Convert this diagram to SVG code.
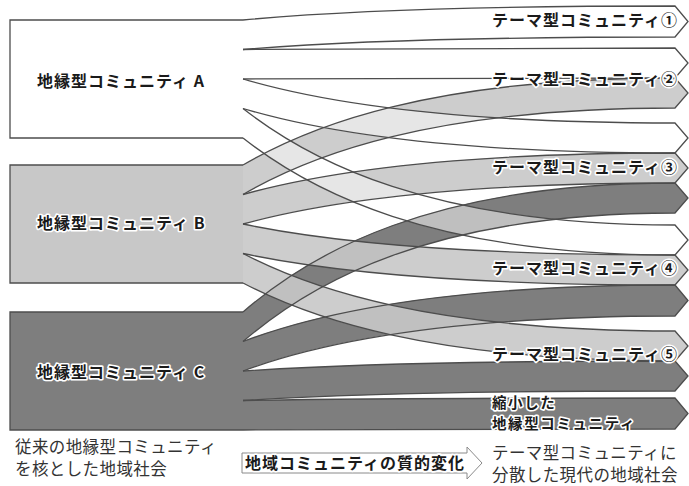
<svg xmlns="http://www.w3.org/2000/svg" xmlns:xlink="http://www.w3.org/1999/xlink" width="689" height="486" viewBox="0 0 689 486">
<style>
.ln{fill:none;stroke:#4d4d4d;stroke-width:1.3;stroke-linejoin:miter}
.fa{fill:#ffffff;fill-opacity:0.5}
.fb{fill:#c8c8c8;fill-opacity:0.9}
.fc{fill:#7e7e7e}
.lbl{font-family:"Noto Sans CJK JP","Noto Sans",sans-serif;font-weight:bold;font-size:16px;letter-spacing:1px;fill:#1a1a1a}
.halo{paint-order:stroke;stroke:#ffffff;stroke-width:3.2px;stroke-linejoin:round}
.cap{font-family:"Noto Sans CJK JP","Noto Sans",sans-serif;font-size:16.5px;letter-spacing:0.4px;fill:#333333}
</style>
<defs>
<path id="bA1" d="M243,20 C310,13.7 430,6 675,6 L688,21.5 L675,37 C430,37 310,43.9 243,49.5"/>
<path id="bA2" d="M243,49.5 C310,48.8 430,48 675,48 L688,63 L675,78 C430,78 310,78.6 243,79"/>
<path id="bA3" d="M243,79 C310,98.8 430,123 675,123 L688,138 L675,153 C430,153 310,128.5 243,108.5"/>
<path id="bA4" d="M243,108.5 C310,160.9 430,225 675,225 L688,240 L675,255 C430,255 310,190.7 243,138"/>
<path id="bB1" d="M243,165 C310,125.9 430,78 675,78 L688,93 L675,108 C430,108 310,155.6 243,194.5"/>
<path id="bB2" d="M243,194.5 C310,175.8 430,153 675,153 L688,168 L675,183 C430,183 310,205.6 243,224"/>
<path id="bB3" d="M243,224 C310,238 430,255 675,255 L688,270 L675,285 C430,285 310,267.7 243,253.5"/>
<path id="bB4" d="M243,253.5 C310,288.4 430,331 675,331 L688,346 L675,361 C430,361 310,318.1 243,283"/>
<path id="bC1" d="M243,312 C310,254 430,183 675,183 L688,198 L675,213 C430,213 310,283.7 243,341.5"/>
<path id="bC2" d="M243,341.5 C310,316.1 430,285 675,285 L688,300.5 L675,316 C430,316 310,346.3 243,371"/>
<path id="bC3" d="M243,371 C310,366.5 430,361 675,361 L688,376 L675,391 C430,391 310,396.2 243,400.5"/>
<path id="bC4" d="M243,400.5 C310,399.4 430,398 675,398 L688,413.5 L675,429 C430,429 310,429.6 243,430"/>
</defs>

<g id="community-a">
<rect x="10" y="20" width="233" height="118" fill="#ffffff"/>
<path class="ln" d="M243,20 H10 V138 H243"/>
<text class="lbl halo" x="37" y="87">地縁型コミュニティ A</text>
</g>
<g id="community-b">
<rect x="10" y="165" width="233" height="118" fill="#c8c8c8"/>
<path class="ln" d="M243,165 H10 V283 H243"/>
<text class="lbl halo" x="37" y="229">地縁型コミュニティ B</text>
</g>
<g id="community-c">
<rect x="10" y="312" width="233" height="118" fill="#7e7e7e"/>
<path class="ln" d="M243,312 H10 V430 H243"/>
<text class="lbl halo" x="37" y="378">地縁型コミュニティ C</text>
</g>

<g id="connectors">
<use xlink:href="#bC1" class="fc"/>
<use xlink:href="#bC2" class="fc"/>
<use xlink:href="#bC3" class="fc"/>
<use xlink:href="#bC4" class="fc"/>
<use xlink:href="#bB1" class="fb"/>
<use xlink:href="#bB2" class="fb"/>
<use xlink:href="#bB3" class="fb"/>
<use xlink:href="#bB4" class="fb"/>
<use xlink:href="#bA1" class="fa"/>
<use xlink:href="#bA2" class="fa"/>
<use xlink:href="#bA3" class="fa"/>
<use xlink:href="#bA4" class="fa"/>
<use xlink:href="#bA1" class="ln"/>
<use xlink:href="#bA2" class="ln"/>
<use xlink:href="#bA3" class="ln"/>
<use xlink:href="#bA4" class="ln"/>
<use xlink:href="#bB1" class="ln"/>
<use xlink:href="#bB2" class="ln"/>
<use xlink:href="#bB3" class="ln"/>
<use xlink:href="#bB4" class="ln"/>
<use xlink:href="#bC1" class="ln"/>
<use xlink:href="#bC2" class="ln"/>
<use xlink:href="#bC3" class="ln"/>
<use xlink:href="#bC4" class="ln"/>
</g>

<g id="theme-1"><text class="lbl halo" x="678" y="26" text-anchor="end">テーマ型コミュニティ①</text></g>
<g id="theme-2"><text class="lbl halo" x="678" y="85" text-anchor="end">テーマ型コミュニティ②</text></g>
<g id="theme-3"><text class="lbl halo" x="678" y="173" text-anchor="end">テーマ型コミュニティ③</text></g>
<g id="theme-4"><text class="lbl halo" x="678" y="274" text-anchor="end">テーマ型コミュニティ④</text></g>
<g id="theme-5"><text class="lbl halo" x="678" y="360" text-anchor="end">テーマ型コミュニティ⑤</text></g>
<g id="shrunk">
<text class="lbl halo" x="492" y="408" style="font-size:14.5px;letter-spacing:1.6px">縮小した</text>
<text class="lbl halo" x="492" y="429" style="font-size:14.5px;letter-spacing:1.6px">地縁型コミュニティ</text>
</g>

<g id="caption-left">
<text class="cap" x="15" y="453">従来の地縁型コミュニティ</text>
<text class="cap" x="15" y="475">を核とした地域社会</text>
</g>
<g id="change-arrow">
<path d="M467,453 H242 V473 H467 V479 L482,463 L467,447 Z" fill="#ffffff" stroke="#8a8a8a" stroke-width="1"/>
<text class="lbl halo" x="245" y="468.5">地域コミュニティの質的変化</text>
</g>
<g id="caption-right">
<text class="cap" x="492" y="459">テーマ型コミュニティに</text>
<text class="cap" x="492" y="481">分散した現代の地域社会</text>
</g>
</svg>
